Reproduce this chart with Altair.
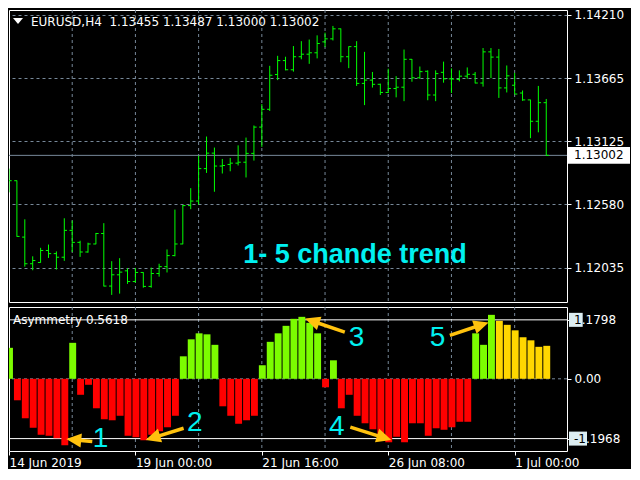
import math
import altair as alt
import pandas as pd

# ---------------- data ----------------
bar_index = list(range(69))
opens = [1.12762, 1.12784, 1.12299, 1.12070, 1.12081, 1.12184, 1.12157, 1.12126, 1.12357, 1.12254,
         1.12171, 1.12240, 1.12330, 1.11878, 1.11975, 1.12009, 1.11917, 1.11995, 1.11875, 1.11986,
         1.12045, 1.12140, 1.12240, 1.12570, 1.12609, 1.12888, 1.13021, 1.12910, 1.12924, 1.12935,
         1.12943, 1.13019, 1.13245, 1.13398, 1.13697, 1.13817, 1.13738, 1.13850, 1.13872, 1.13884,
         1.13978, 1.14004, 1.14090, 1.13850, 1.13937, 1.13621, 1.13649, 1.13613, 1.13543, 1.13577,
         1.13588, 1.13828, 1.13669, 1.13725, 1.13521, 1.13716, 1.13660, 1.13655, 1.13683, 1.13699,
         1.13624, 1.13892, 1.13847, 1.13582, 1.13605, 1.13538, 1.13479, 1.13295, 1.13455]
highs = [1.12888, 1.12786, 1.12452, 1.12134, 1.12207, 1.12235, 1.12176, 1.12461, 1.12441, 1.12268,
         1.12251, 1.12335, 1.12419, 1.12092, 1.12118, 1.12031, 1.12034, 1.11997, 1.12037, 1.12070,
         1.12193, 1.12536, 1.12575, 1.12720, 1.12999, 1.13164, 1.13069, 1.12971, 1.12980, 1.13088,
         1.13155, 1.13259, 1.13443, 1.13772, 1.13858, 1.13850, 1.13942, 1.13984, 1.13998, 1.14034,
         1.14057, 1.14115, 1.14093, 1.13939, 1.13984, 1.13892, 1.13719, 1.13619, 1.13747, 1.13683,
         1.13912, 1.13830, 1.13766, 1.13733, 1.13733, 1.13808, 1.13750, 1.13733, 1.13758, 1.13719,
         1.13925, 1.13925, 1.13917, 1.13775, 1.13711, 1.13560, 1.13481, 1.13599, 1.13487]
lows = [1.12684, 1.12302, 1.12045, 1.12014, 1.12079, 1.12120, 1.12020, 1.12095, 1.12171, 1.12129,
        1.12165, 1.12238, 1.11875, 1.11802, 1.11813, 1.11897, 1.11908, 1.11864, 1.11864, 1.11959,
        1.11995, 1.12134, 1.12238, 1.12539, 1.12578, 1.12851, 1.12689, 1.12846, 1.12865, 1.12915,
        1.12812, 1.12957, 1.13075, 1.13384, 1.13649, 1.13733, 1.13722, 1.13828, 1.13789, 1.13836,
        1.13934, 1.13990, 1.13803, 1.13752, 1.13599, 1.13434, 1.13585, 1.13521, 1.13538, 1.13501,
        1.13468, 1.13635, 1.13660, 1.13476, 1.13468, 1.13627, 1.13538, 1.13638, 1.13660, 1.13621,
        1.13593, 1.13666, 1.13496, 1.13543, 1.13529, 1.13471, 1.13150, 1.13200, 1.13000]
closes = [1.12784, 1.12305, 1.12070, 1.12098, 1.12184, 1.12157, 1.12126, 1.12357, 1.12254, 1.12171,
          1.12240, 1.12330, 1.11878, 1.11975, 1.11998, 1.11917, 1.11995, 1.11875, 1.11986, 1.12045,
          1.12140, 1.12240, 1.12570, 1.12609, 1.12888, 1.13021, 1.12910, 1.12915, 1.12935, 1.12943,
          1.13019, 1.13245, 1.13398, 1.13691, 1.13817, 1.13738, 1.13850, 1.13872, 1.13884, 1.13964,
          1.14004, 1.14090, 1.13850, 1.13937, 1.13621, 1.13649, 1.13613, 1.13543, 1.13577, 1.13588,
          1.13828, 1.13669, 1.13722, 1.13521, 1.13705, 1.13660, 1.13658, 1.13683, 1.13699, 1.13624,
          1.13892, 1.13847, 1.13582, 1.13686, 1.13529, 1.13479, 1.13295, 1.13455, 1.13002]
asym = [0.62, -0.43, -0.79, -0.98, -1.12, -1.14, -1.19, -1.33, 0.72, -0.32,
        -0.12, -0.59, -0.81, -0.83, -0.74, -1.14, -1.17, -1.23, -1.12, -1.05,
        -0.97, -0.74, 0.45, 0.79, 0.91, 0.89, 0.68, -0.55, -0.74, -0.90,
        -0.83, -0.74, 0.27, 0.74, 0.91, 1.06, 1.20, 1.24, 1.12, 0.91,
        -0.17, 0.37, -0.59, -0.32, -0.74, -0.89, -1.01, -1.10, -1.27, -1.16,
        -1.27, -0.89, -0.89, -1.14, -0.99, -1.02, -0.97, -0.86, -0.86, 0.91,
        0.68, 1.28, 1.16, 1.08, 0.97, 0.83, 0.77, 0.64, 0.66]
state = (["up"] + ["down"] * 7 + ["up"] + ["down"] * 13 + ["up"] * 5 + ["down"] * 5 +
         ["up"] * 8 + ["down"] + ["up"] + ["down"] * 17 + ["up"] * 3 + ["fade"] * 7)

price_ticks = [1.12035, 1.12580, 1.13125, 1.13665, 1.14210]
last_price = 1.13002
asym_levels = [1.1798, -1.1968]
level_head = ["1", "-1"]          # part of the level label drawn on the light box
level_tail = [".1798", ".1968"]   # rest of the level label
grid_x = [8, 16, 24, 32, 40, 48, 56, 64]
x_tick_pos = [0, 16, 32, 48, 64]
x_tick_labels = ["14 Jun 2019", "19 Jun 00:00", "21 Jun 16:00", "26 Jun 08:00", "1 Jul 00:00"]
title_text = "EURUSD,H4 \u00a01.13455 1.13487 1.13000 1.13002"
ind_title = "Asymmetry 0.5618"
big_text = "1- 5 chande trend"

arrow_tail_x = [10.54, 22.1, 42.5, 43.2, 55.8]
arrow_tail_y = [-1.257, -0.99, 0.934, -0.967, 0.87]
arrow_tip_x = [7.25, 17.3, 37.46, 48.4, 60.7]
arrow_tip_y = [-1.207, -1.226, 1.205, -1.226, 1.128]
num_text = ["1", "2", "3", "4", "5"]
num_x = [11.6, 23.5, 44.0, 41.5, 54.25]
num_y = [-1.367, -1.045, 0.664, -1.13, 0.664]

# ---------------- style ----------------
W, H1, H2 = 558, 292, 144
XD = [0, 70.625]
YD1 = [1.11741, 1.14252]
YD2 = [-1.445, 1.437]
GRID = "#778899"
BAR = "#00FF00"
GREEN, RED, GOLD = "#7CFC00", "#FF0000", "#FFD700"
ARROW = "#FFC20E"
CYAN = "#00F0F0"
FONT = "DejaVu Sans"
FS = 12
LAB_X = W + 7

xs = alt.Scale(domain=XD, nice=False, zero=False)
ys1 = alt.Scale(domain=YD1, nice=False, zero=False)
ys2 = alt.Scale(domain=YD2, nice=False, zero=False)

df = pd.DataFrame({"i": bar_index, "o": opens, "h": highs, "l": lows, "c": closes,
                   "asym": asym, "state": state})

# ---------------- main panel ----------------
price_axis = alt.Axis(orient="right", values=price_ticks, format=".5f", grid=True,
                      gridColor=GRID, gridDash=[3, 3], gridWidth=1, domain=False,
                      ticks=True, tickColor="white", tickSize=4, labelPadding=3,
                      labelColor="white", labelFontSize=FS, labelFont=FONT, title=None)


def Y1(field):
    return alt.Y(field, scale=ys1, axis=price_axis, title=None)


vgrid1 = alt.Chart(pd.DataFrame({"g": grid_x})).mark_rule(
    color=GRID, strokeDash=[3, 3], strokeWidth=1).encode(x=alt.X("g:Q", scale=xs, axis=None))

pline = alt.Chart(pd.DataFrame({"p": [last_price]})).mark_rule(color=GRID, strokeWidth=1).encode(
    y=Y1("p:Q"))

base = alt.Chart(df)
hl = base.mark_rule(color=BAR, strokeWidth=1, clip=True).encode(
    x=alt.X("i:Q", scale=xs, axis=None), y=Y1("l:Q"), y2="h:Q")
op = base.transform_calculate(xo="datum.i - 0.34").mark_rule(
    color=BAR, strokeWidth=1, clip=True).encode(
    x=alt.X("xo:Q", scale=xs, axis=None), x2="i:Q", y=Y1("o:Q"))
cl = base.transform_calculate(xc="datum.i + 0.34").mark_rule(
    color=BAR, strokeWidth=1, clip=True).encode(
    x=alt.X("i:Q", scale=xs, axis=None), x2="xc:Q", y=Y1("c:Q"))

big = alt.Chart(pd.DataFrame({"x": [43.8], "y": [1.12077], "t": [big_text]})).mark_text(
    align="center", baseline="alphabetic", font="Liberation Sans", fontSize=27,
    fontWeight="bold", color=CYAN).encode(
    x=alt.X("x:Q", scale=xs, axis=None), y=Y1("y:Q"), text="t:N")

tri = alt.Chart(pd.DataFrame({"t": [0]})).mark_point(
    shape="M-1,-0.6L1,-0.6L0,0.6Z", size=100, filled=True, color="white", opacity=1).encode(
    x=alt.value(9), y=alt.value(11))
ttl = alt.Chart(pd.DataFrame({"t": [title_text]})).mark_text(
    align="left", baseline="middle", color="white", fontSize=FS, font=FONT).encode(
    x=alt.value(22), y=alt.value(12), text="t:N")

pl = pd.DataFrame({"p": [last_price], "t": [f"{last_price:.5f}"]})
plbox = alt.Chart(pl).transform_calculate(
    top="datum.p + 0.00072", bot="datum.p - 0.00072").mark_rect(color="white").encode(
    x=alt.value(W + 1), x2=alt.value(W + 63), y=Y1("top:Q"), y2="bot:Q")
pltxt = alt.Chart(pl).mark_text(align="left", baseline="middle", color="black",
                                fontSize=FS, font=FONT).encode(
    x=alt.value(LAB_X), y=Y1("p:Q"), text="t:N")

main = alt.layer(vgrid1, pline, hl, op, cl, big, tri, ttl, plbox, pltxt).properties(
    width=W, height=H1)

# ---------------- indicator panel ----------------
label_expr = " : ".join(f"datum.value == {p} ? '{l}'" for p, l in zip(x_tick_pos, x_tick_labels)) + " : ''"
x_axis = alt.Axis(values=x_tick_pos, labelExpr=label_expr, grid=False, domain=False, ticks=True,
                  tickColor="white", tickSize=4, labelColor="white", labelFontSize=FS,
                  labelFont=FONT, labelAlign="left", labelPadding=2, labelFlush=False,
                  labelOverlap=False, title=None)
asym_axis = alt.Axis(orient="right", values=[asym_levels[0], 0, asym_levels[1]],
                     labelExpr="datum.value == 0 ? '0.00' : ''",
                     grid=False, domain=False, ticks=True, tickColor="white", tickSize=4,
                     labelPadding=3, labelColor="white", labelFontSize=FS, labelFont=FONT,
                     title=None)


def X2(field):
    return alt.X(field, scale=xs, axis=x_axis, title=None)


def Y2(field):
    return alt.Y(field, scale=ys2, axis=asym_axis, title=None)


vgrid2 = alt.Chart(pd.DataFrame({"g": grid_x})).mark_rule(
    color=GRID, strokeDash=[3, 3], strokeWidth=1).encode(x=X2("g:Q"))
zero = alt.Chart(pd.DataFrame({"z": [0.0]})).mark_rule(
    color=GRID, strokeDash=[3, 3], strokeWidth=1).encode(y=Y2("z:Q"))
levels = alt.Chart(pd.DataFrame({"v": asym_levels})).mark_rule(color="white", strokeWidth=1).encode(
    y=Y2("v:Q"))

bars = base.transform_calculate(x0="datum.i - 0.375", x1="datum.i + 0.5").mark_rect(clip=True).encode(
    x=X2("x0:Q"), x2="x1:Q", y=Y2("asym:Q"), y2=alt.datum(0),
    color=alt.Color("state:N", scale=alt.Scale(domain=["up", "down", "fade"],
                                               range=[GREEN, RED, GOLD]), legend=None))

pxx = W / (XD[1] - XD[0])
pxy = H2 / (YD2[1] - YD2[0])
arows = []
for tx, ty, hx, hy in zip(arrow_tail_x, arrow_tail_y, arrow_tip_x, arrow_tip_y):
    dx = (hx - tx) * pxx
    dy = (hy - ty) * pxy
    length = math.hypot(dx, dy)
    back = 9.0 / length
    arows.append({"tx": tx, "ty": ty, "hx": hx, "hy": hy,
                  "ex": hx - (hx - tx) * back, "ey": hy - (hy - ty) * back,
                  "ang": math.degrees(math.atan2(dx, dy)) % 360})
adf = pd.DataFrame(arows)
shafts = alt.Chart(adf).mark_rule(color=ARROW, strokeWidth=3.5).encode(
    x=X2("tx:Q"), x2="ex:Q", y=Y2("ty:Q"), y2="ey:Q")
heads = alt.Chart(adf).mark_point(shape="M0,0L-0.47,1L0.47,1Z", size=900, filled=True,
                                  color=ARROW, opacity=1).encode(
    x=X2("hx:Q"), y=Y2("hy:Q"), angle=alt.Angle("ang:Q", scale=None))

nums = alt.Chart(pd.DataFrame({"x": num_x, "y": num_y, "t": num_text})).mark_text(
    align="center", baseline="alphabetic", font="Liberation Sans", fontSize=28,
    color=CYAN).encode(x=X2("x:Q"), y=Y2("y:Q"), text="t:N")

ind = alt.Chart(pd.DataFrame({"t": [ind_title]})).mark_text(
    align="left", baseline="middle", color="white", fontSize=FS, font=FONT).encode(
    x=alt.value(4), y=alt.value(13), text="t:N")

# level labels: light box with dark leading digits, then the rest in white
half = 7.0 / pxy
head_w = [7.7, 12.0]   # rendered width of "1" and "-1" at 12px DejaVu Sans
lvl = pd.DataFrame({"v": asym_levels, "head": level_head, "tail": level_tail})
box_layers, tail_layers = [], []
for k in range(2):
    row = lvl.iloc[[k]]
    box_layers.append(alt.Chart(row).transform_calculate(
        top=f"datum.v + {half}", bot=f"datum.v - {half}").mark_rect(color="#DDEEF2").encode(
        x=alt.value(LAB_X - 5), x2=alt.value(LAB_X + head_w[k] + 1), y=Y2("top:Q"), y2="bot:Q"))
    tail_layers.append(alt.Chart(row).mark_text(
        align="left", baseline="middle", color="white", fontSize=FS, font=FONT).encode(
        x=alt.value(LAB_X + head_w[k]), y=Y2("v:Q"), text="tail:N"))
lvlhead = alt.Chart(lvl).mark_text(align="left", baseline="middle", color="black",
                                   fontSize=FS, font=FONT).encode(
    x=alt.value(LAB_X), y=Y2("v:Q"), text="head:N")

lower = alt.layer(vgrid2, zero, levels, bars, shafts, heads, nums, ind,
                  *box_layers, lvlhead, *tail_layers).properties(width=W, height=H2)

chart = alt.vconcat(main, lower, spacing=3).properties(
    padding=0, background="black").configure_view(stroke="white", strokeWidth=1)

chart.save("out.html", embed_options={"renderer": "svg", "actions": False})
